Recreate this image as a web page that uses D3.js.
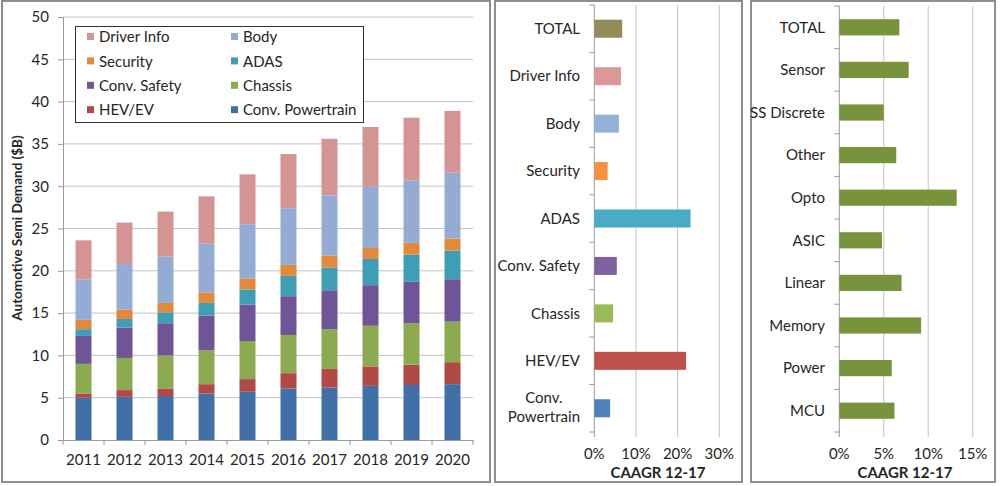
<!DOCTYPE html>
<html>
<head>
<meta charset="utf-8">
<script src="https://cdn.jsdelivr.net/npm/d3@7"></script>
<style>
  body { margin: 0; background: #fff; }
  text { font-family: Lato, "Open Sans", sans-serif; fill: #262626; }
</style>
</head>
<body>
<div id="d3"></div>
<script>
// ---- data ----
var years = ["2011","2012","2013","2014","2015","2016","2017","2018","2019","2020"];
var segments = ["Conv. Powertrain","HEV/EV","Chassis","Conv. Safety","ADAS","Security","Body","Driver Info"];
var convPowertrain = [5.0, 5.1, 5.2, 5.5, 5.7, 6.1, 6.2, 6.4, 6.5, 6.6];
var hevEv          = [0.5, 0.8, 0.9, 1.1, 1.5, 1.8, 2.2, 2.3, 2.4, 2.6];
var chassis        = [3.5, 3.8, 3.9, 4.0, 4.5, 4.5, 4.7, 4.8, 4.9, 4.8];
var convSafety     = [3.3, 3.6, 3.8, 4.1, 4.3, 4.6, 4.6, 4.8, 4.9, 5.0];
var adas           = [0.8, 1.0, 1.3, 1.5, 1.8, 2.4, 2.7, 3.1, 3.2, 3.4];
var security       = [1.1, 1.1, 1.1, 1.2, 1.3, 1.3, 1.4, 1.3, 1.4, 1.4];
var body           = [4.8, 5.4, 5.5, 5.8, 6.4, 6.7, 7.1, 7.3, 7.4, 7.8];
var driverInfo     = [4.6, 4.9, 5.3, 5.6, 5.9, 6.4, 6.7, 7.0, 7.4, 7.3];
var yTicks = [0,5,10,15,20,25,30,35,40,45,50];

var appCats   = ["TOTAL","Driver Info","Body","Security","ADAS","Conv. Safety","Chassis","HEV/EV","Conv. Powertrain"];
var appCagr   = [0.067, 0.064, 0.059, 0.032, 0.231, 0.054, 0.045, 0.220, 0.038];
var appTicks  = [0, 0.1, 0.2, 0.3];

var devCats   = ["TOTAL","Sensor","SS Discrete","Other","Opto","ASIC","Linear","Memory","Power","MCU"];
var devCagr   = [0.0675, 0.078, 0.050, 0.064, 0.132, 0.048, 0.070, 0.092, 0.059, 0.062];
var devTicks  = [0, 0.05, 0.10, 0.15];

var segColors = {
  "Conv. Powertrain": "#4170a8", "HEV/EV": "#b14946", "Chassis": "#8caa4f",
  "Conv. Safety": "#6f5598", "ADAS": "#3f9db4", "Security": "#e2893c",
  "Body": "#94acd4", "Driver Info": "#d39493"
};
var appColors = ["#958b56","#dc9897","#93b2d8","#f4923f","#49abc6","#7d61a1","#9bbb59","#c0504d","#4f81bd"];
var gridColor = "#c4c4c4", axisColor = "#9a9a9a";

var svg = d3.select("#d3").append("svg")
    .attr("width", 1000).attr("height", 486);

// panel frames
[[2, 1, 490, 482], [495, 1, 742, 482], [751, 1, 995, 482]].forEach(function (p) {
  svg.append("rect")
      .attr("x", p[0]).attr("y", p[1])
      .attr("width", p[2] - p[0]).attr("height", p[3] - p[1])
      .attr("fill", "none").attr("stroke", "#8e8e8e").attr("stroke-width", 2);
});

// ---- left: stacked bars ----
var series = [convPowertrain, hevEv, chassis, convSafety, adas, security, body, driverInfo];
var rows = years.map(function (y, i) {
  var r = { year: y };
  segments.forEach(function (s, k) { r[s] = series[k][i]; });
  return r;
});
var stacked = d3.stack().keys(segments)(rows);

var x = d3.scaleBand().domain(years).range([63, 473]).paddingInner(0.61).paddingOuter(0.305);
var y = d3.scaleLinear().domain([0, 50]).range([440, 17]);

svg.append("g").selectAll("line")
    .data(yTicks.slice(1)).enter()
    .append("line")
    .attr("x1", 63).attr("x2", 473)
    .attr("y1", function (d) { return y(d); })
    .attr("y2", function (d) { return y(d); })
    .attr("stroke", gridColor);

svg.append("g").selectAll("g")
    .data(stacked).enter()
    .append("g")
    .attr("fill", function (d) { return segColors[d.key]; })
    .selectAll("rect")
    .data(function (d) { return d; }).enter()
    .append("rect")
    .attr("x", function (d) { return x(d.data.year); })
    .attr("y", function (d) { return y(d[1]); })
    .attr("height", function (d) { return y(d[0]) - y(d[1]); })
    .attr("width", x.bandwidth());

var yAxis = svg.append("g")
    .attr("transform", "translate(63,0)")
    .call(d3.axisLeft(y).tickValues(yTicks).tickSize(5).tickPadding(9));
yAxis.selectAll("text").attr("font-size", "15px").attr("font-family", "Lato, sans-serif").attr("fill", "#262626");
yAxis.selectAll("line, path").attr("stroke", axisColor);

var xAxis = svg.append("g")
    .attr("transform", "translate(0,440)")
    .call(d3.axisBottom(x).tickSize(0).tickPadding(14));
xAxis.selectAll("text").attr("font-size", "15px").attr("font-family", "Lato, sans-serif").attr("fill", "#262626");
xAxis.select("path").attr("stroke", axisColor);
// category separators below the axis
svg.append("g").selectAll("line")
    .data(years).enter()
    .append("line")
    .attr("x1", function (d) { return x(d) - x.step() * x.paddingInner() / 2; })
    .attr("x2", function (d) { return x(d) - x.step() * x.paddingInner() / 2; })
    .attr("y1", 440).attr("y2", 445)
    .attr("stroke", axisColor);
svg.append("line").attr("x1", 473).attr("x2", 473).attr("y1", 440).attr("y2", 445).attr("stroke", axisColor);

svg.append("text")
    .attr("transform", "translate(22,228) rotate(-90)")
    .attr("text-anchor", "middle")
    .attr("font-size", "13.5px")
    .attr("font-weight", "bold")
    .text("Automotive Semi Demand ($B)");

// legend
var legendOrder = ["Driver Info","Body","Security","ADAS","Conv. Safety","Chassis","HEV/EV","Conv. Powertrain"];
svg.append("rect")
    .attr("x", 75.5).attr("y", 26.5).attr("width", 288).attr("height", 96)
    .attr("fill", "#fff").attr("stroke", "#333");
var lg = svg.append("g").selectAll("g")
    .data(legendOrder).enter()
    .append("g")
    .attr("transform", function (d, i) {
      return "translate(" + (i % 2 === 0 ? 87 : 231) + "," + (37 + Math.floor(i / 2) * 24.4) + ")";
    });
lg.append("rect").attr("x", 0).attr("y", -4).attr("width", 7).attr("height", 7)
    .attr("fill", function (d) { return segColors[d]; });
lg.append("text").attr("x", 12).attr("dy", "0.35em").attr("font-size", "15px").text(function (d) { return d; });

// ---- horizontal CAAGR charts ----
function hbar(cats, vals, ticks, xr, yr, colorOf, labelEnd, centerX) {
  var bx = d3.scaleLinear().domain([ticks[0], ticks[ticks.length - 1]]).range(xr);
  var by = d3.scaleBand().domain(cats).range(yr).paddingInner(0.62).paddingOuter(0.31);

  svg.append("g").selectAll("line")
      .data(ticks).enter()
      .append("line")
      .attr("x1", function (d) { return bx(d); })
      .attr("x2", function (d) { return bx(d); })
      .attr("y1", yr[0]).attr("y2", yr[1] + 5)
      .attr("stroke", function (d, i) { return i === 0 ? axisColor : gridColor; });

  svg.append("g").selectAll("rect")
      .data(cats).enter()
      .append("rect")
      .attr("x", bx(0))
      .attr("y", function (d) { return by(d); })
      .attr("height", by.bandwidth())
      .attr("width", function (d, i) { return bx(vals[i]) - bx(0); })
      .attr("fill", function (d, i) { return colorOf(i); });

  // category ticks
  svg.append("g").selectAll("line")
      .data(cats.concat(["_end"])).enter()
      .append("line")
      .attr("x1", bx(0) - 5).attr("x2", bx(0))
      .attr("y1", function (d, i) { return yr[0] + i * by.step(); })
      .attr("y2", function (d, i) { return yr[0] + i * by.step(); })
      .attr("stroke", axisColor);

  svg.append("g").selectAll("text")
      .data(cats).enter()
      .append("text")
      .attr("x", labelEnd)
      .attr("y", function (d) { return by(d) + by.bandwidth() / 2; })
      .attr("dy", "0.35em")
      .attr("text-anchor", "end")
      .attr("font-size", "15px")
      .each(function (d) {
        var t = d3.select(this);
        if (d === "Conv. Powertrain") {
          var cy = by(d) + by.bandwidth() / 2;
          t.attr("dy", null).attr("y", null);
          var a = t.append("tspan").attr("y", cy - 5).attr("x", labelEnd).text("Conv.");
          var b = t.append("tspan").attr("y", cy + 14).attr("x", labelEnd).text("Powertrain");
          var w = b.node().getComputedTextLength();
          t.attr("text-anchor", "middle");
          a.attr("x", labelEnd - w / 2);
          b.attr("x", labelEnd - w / 2);
        } else {
          t.text(d);
        }
      });

  svg.append("g").selectAll("text")
      .data(ticks).enter()
      .append("text")
      .attr("x", function (d) { return bx(d); })
      .attr("y", 459)
      .attr("text-anchor", "middle")
      .attr("font-size", "15px")
      .text(d3.format(".0%"));

  svg.append("text")
      .attr("x", centerX).attr("y", 478)
      .attr("text-anchor", "middle")
      .attr("font-size", "15px")
      .attr("font-weight", "bold")
      .text("CAAGR 12-17");
}

hbar(appCats, appCagr, appTicks, [594.3, 719.3], [5, 432],
     function (i) { return appColors[i]; }, 580, 658);
hbar(devCats, devCagr, devTicks, [839.3, 972.7], [6, 432],
     function () { return "#77933c"; }, 825, 905);
</script>
</body>
</html>
